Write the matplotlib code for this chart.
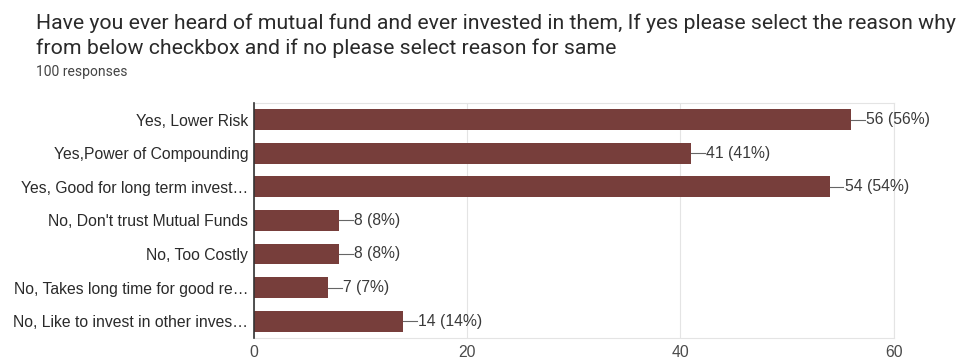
import matplotlib.pyplot as plt

reasons = [
    "Yes, Lower Risk",
    "Yes,Power of Compounding",
    "Yes, Good for long term invest\u2026",
    "No, Don't trust Mutual Funds",
    "No, Too Costly",
    "No, Takes long time for good re\u2026",
    "No, Like to invest in other inves\u2026",
]
counts = [56, 41, 54, 8, 8, 7, 14]
total = 100
x_ticks = [0, 20, 40, 60]

bar_color = "#773E3B"
lab_font = "Liberation Sans"

fig = plt.figure(figsize=(9.65, 3.61), dpi=100)
ax = fig.add_axes([0.263, 0.064, 0.663, 0.651])

y = list(range(len(reasons)))
ax.barh(y, counts, height=0.62, color=bar_color, zorder=3)
ax.set_ylim(len(reasons) - 0.5, -0.5)
ax.set_xlim(0, 60)

# value labels with a short leader line
for yi, c in zip(y, counts):
    ax.plot([c, c + 1.3], [yi, yi], color="#666666", lw=0.8, zorder=3, clip_on=False)
    ax.text(c + 1.4, yi, f"{c} ({round(c * 100 / total)}%)", va="center", ha="left",
            fontsize=11.3, family=lab_font, color="#3a3a3a")

ax.set_yticks(y)
ax.set_yticklabels(reasons, fontsize=11.3, family=lab_font, color="#2a2a2a")
ax.set_xticks(x_ticks)
ax.set_xticklabels([str(t) for t in x_ticks], fontsize=11.3, family=lab_font, color="#4a4a4a")
ax.tick_params(length=0, pad=4)
ax.tick_params(axis="x", pad=5)
ax.grid(axis="x", color="#e4e4e4", lw=0.8, zorder=0)
for side in ["top", "right", "bottom"]:
    ax.spines[side].set_color("#e4e4e4")
    ax.spines[side].set_linewidth(0.8)
ax.spines["left"].set_color("#333333")
ax.spines["left"].set_linewidth(1.2)
ax.spines["left"].set_zorder(4)

fig.text(0.037, 0.937, "Have you ever heard of mutual fund and ever invested in them, If yes please select the reason why",
         fontsize=15.3, family="Roboto", color="#2a2a2a", va="center")
fig.text(0.037, 0.865, "from below checkbox and if no please select reason for same",
         fontsize=15.3, family="Roboto", color="#2a2a2a", va="center")
fig.text(0.037, 0.80, "100 responses", fontsize=10, family="Roboto", color="#444444", va="center")

fig.savefig("out.png", dpi=100)
